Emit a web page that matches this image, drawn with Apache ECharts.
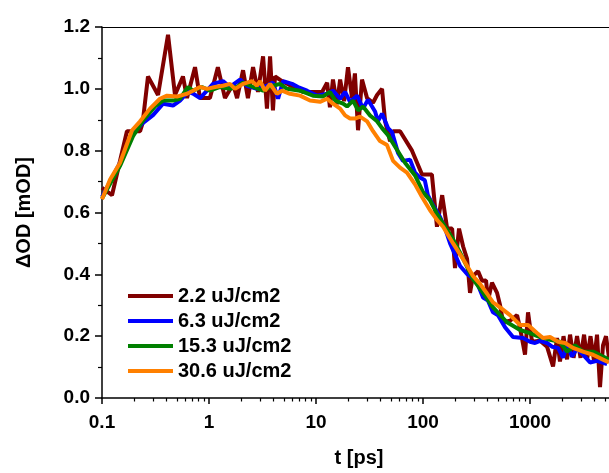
<!DOCTYPE html>
<html><head><meta charset="utf-8">
<script src="https://cdn.jsdelivr.net/npm/echarts@6/dist/echarts.min.js"></script>
<style>html,body{margin:0;padding:0;background:#fff}#c{width:609px;height:473px}</style>
</head><body><div id="c"></div>
<script>
const seriesNames = ['2.2 uJ/cm2', '6.3 uJ/cm2', '15.3 uJ/cm2', '30.6 uJ/cm2'];
const seriesColors = ['#800000', '#0000FF', '#008000', '#FF8000'];
const xMajorTicks = [0.1, 1, 10, 100, 1000];
const xMinorTicks = [0.2,0.3,0.4,0.5,0.6,0.7,0.8,0.9,2,3,4,5,6,7,8,9,20,30,40,50,60,70,80,90,200,300,400,500,600,700,800,900,2000,3000,4000,5000];
const xMin = 0.1, xMax = 5470;
const yMin = 0, yMax = 1.2, yStep = 0.2;

const s22 = [[0.1,0.68],[0.124,0.656],[0.171,0.863],[0.227,0.863],[0.24,0.89],[0.269,1.04],[0.334,0.98],[0.414,1.175],[0.481,0.98],[0.571,1.04],[0.623,0.97],[0.74,1.07],[0.824,0.97],[1.02,0.97],[1.21,1.07],[1.41,0.97],[1.68,1.015],[1.83,0.97],[2.08,1.06],[2.31,0.97],[2.58,1.07],[2.87,0.99],[3.2,1.105],[3.48,0.936],[3.72,1.105],[3.96,0.93],[4.14,1.04],[4.81,1.025],[6.1,1.006],[7.56,0.99],[9.37,0.99],[11.4,0.99],[12.7,1.02],[13.5,0.94],[14.4,1.03],[15.7,0.95],[16.8,1.03],[18.3,0.96],[19.9,1.07],[21.7,0.97],[23.1,1.05],[24.7,0.866],[26.9,1.03],[30,0.97],[34.1,0.955],[37.2,0.98],[41.4,1.0],[44.2,0.895],[49.2,0.83],[52.5,0.863],[61,0.863],[78.9,0.80],[97.9,0.723],[121,0.723],[135,0.554],[151,0.656],[168,0.548],[187,0.548],[199,0.42],[217,0.548],[237,0.49],[258,0.45],[275,0.34],[293,0.395],[327,0.41],[356,0.379],[388,0.38],[405,0.315],[441,0.373],[492,0.34],[525,0.30],[560,0.245],[650,0.25],[757,0.268],[807,0.226],[898,0.14],[958,0.277],[1044,0.182],[1240,0.185],[1442,0.166],[1641,0.102],[1788,0.194],[1905,0.118],[2056,0.20],[2218,0.125],[2366,0.205],[2552,0.13],[2750,0.20],[2965,0.13],[3199,0.205],[3412,0.125],[3674,0.20],[3963,0.12],[4227,0.205],[4508,0.035],[4808,0.17],[5129,0.20],[5470,0.13]];

const s63 = [[0.1,0.65],[0.147,0.76],[0.195,0.857],[0.242,0.89],[0.3,0.915],[0.372,0.952],[0.461,0.946],[0.536,0.962],[0.637,0.99],[0.708,0.985],[0.824,0.97],[0.958,0.994],[1.09,1.016],[1.35,1.025],[1.57,1.006],[1.95,1.03],[2.26,1.01],[2.81,1.0],[3.48,1.01],[3.96,1.02],[4.42,0.968],[4.92,1.025],[5.97,1.016],[6.79,1.006],[8.24,0.994],[10.2,0.978],[12.7,0.984],[14.4,0.994],[16.8,0.968],[18.7,0.99],[20.8,0.958],[24.2,0.978],[27.5,0.936],[30.6,0.965],[35.6,0.927],[37.9,0.895],[41.4,0.92],[47.1,0.873],[51.3,0.86],[58.4,0.793],[65,0.767],[75.6,0.771],[84.2,0.729],[93.7,0.713],[104,0.704],[111,0.656],[124,0.624],[144,0.586],[161,0.548],[179,0.50],[222,0.427],[258,0.401],[287,0.39],[320,0.373],[364,0.325],[405,0.315],[451,0.277],[502,0.268],[584,0.229],[693,0.197],[860,0.194],[1000,0.182],[1114,0.178],[1240,0.185],[1442,0.178],[1606,0.166],[1828,0.162],[2033,0.131],[2218,0.17],[2472,0.134],[2750,0.16],[3126,0.14],[3637,0.115],[4227,0.12],[5248,0.11]];

const s153 = [[0.1,0.645],[0.147,0.75],[0.195,0.847],[0.242,0.898],[0.313,0.943],[0.372,0.962],[0.461,0.962],[0.536,0.968],[0.637,1.006],[0.708,0.994],[0.86,1.006],[1.02,0.994],[1.27,1.006],[1.57,1.0],[1.83,1.006],[2.08,1.02],[2.58,1.006],[3.2,0.994],[3.96,1.01],[4.61,1.016],[5.36,1.0],[7.09,0.994],[9.37,0.978],[11.6,0.975],[13.5,0.99],[15.1,0.962],[17.9,0.952],[19.5,0.943],[22.2,0.962],[24.7,0.93],[27.5,0.943],[32,0.914],[37.2,0.895],[41.4,0.873],[47.1,0.85],[57.1,0.803],[67.9,0.761],[84.2,0.72],[100,0.666],[116,0.64],[135,0.596],[161,0.554],[191,0.513],[222,0.47],[293,0.385],[364,0.34],[451,0.293],[609,0.245],[807,0.22],[1000,0.21],[1240,0.197],[1538,0.188],[1905,0.182],[2218,0.15],[2635,0.17],[3126,0.15],[3880,0.15],[4808,0.134],[5470,0.125]];

const s306 = [[0.1,0.643],[0.119,0.707],[0.147,0.76],[0.191,0.866],[0.227,0.895],[0.281,0.936],[0.348,0.968],[0.405,0.978],[0.502,0.975],[0.623,0.984],[0.708,0.994],[0.824,1.006],[0.958,1.0],[1.14,1.006],[1.35,1.01],[1.57,1.016],[1.75,1.0],[2.08,1.016],[2.52,1.025],[2.81,1.01],[3.0,1.025],[3.33,0.994],[3.72,1.016],[4.32,0.984],[4.81,0.994],[5.71,0.984],[7.09,0.978],[8.79,0.962],[10.9,0.958],[12.7,0.968],[14.4,0.952],[16.8,0.936],[18.7,0.914],[20.8,0.904],[23.1,0.904],[25.8,0.91],[30,0.895],[34.1,0.863],[39.6,0.831],[46.1,0.818],[52.5,0.767],[61,0.745],[70.8,0.729],[84.2,0.691],[97.9,0.65],[116,0.608],[135,0.576],[154,0.554],[191,0.50],[237,0.449],[293,0.395],[341,0.369],[396,0.338],[451,0.309],[525,0.293],[650,0.268],[807,0.236],[958,0.236],[1162,0.21],[1322,0.194],[1538,0.197],[1828,0.182],[2124,0.178],[2523,0.162],[3126,0.15],[3880,0.14],[4808,0.124],[5470,0.115]];

const allData = [s22, s63, s153, s306];
const FONT = '"Liberation Sans", Arial, sans-serif';

const chart = echarts.init(document.getElementById('c'), null, {renderer: 'canvas'});
chart.setOption({
  animation: false,
  backgroundColor: '#fff',
  grid: {left: 102, right: 0, top: 27, bottom: 69, containLabel: false},
  legend: {
    orient: 'vertical', left: 123, top: 281, itemWidth: 45, itemHeight: 4, itemGap: 5,
    textStyle: {fontFamily: FONT, fontWeight: 'bold', fontSize: 20, color: '#000'},
    data: seriesNames.map(n => ({name: n, icon: 'rect'})),
  },
  xAxis: [
    {
      type: 'log', logBase: 10, min: xMin, max: xMax, position: 'bottom',
      name: 't [ps]', nameLocation: 'middle', nameGap: 50,
      nameTextStyle: {fontFamily: FONT, fontWeight: 'bold', fontSize: 20, color: '#000', padding: [0,0,0,7]},
      axisLine: {show: true, lineStyle: {color: '#000', width: 1.5}},
      axisTick: {show: true, length: 6, lineStyle: {color: '#000', width: 1.5}, customValues: xMajorTicks},
      axisLabel: {show: true, margin: 15, fontFamily: FONT, fontWeight: 'bold', fontSize: 19, color: '#000',
        customValues: xMajorTicks, formatter: v => String(Math.round(v * 10) / 10)},
      splitLine: {show: false}, minorTick: {show: false}
    },
    {
      type: 'log', logBase: 10, min: xMin, max: xMax, position: 'bottom',
      axisLine: {show: false},
      axisTick: {show: true, length: 3.5, lineStyle: {color: '#000', width: 1.2}, customValues: xMinorTicks},
      axisLabel: {show: false}, splitLine: {show: false}
    },
    {
      type: 'log', logBase: 10, min: xMin, max: xMax, position: 'top',
      axisLine: {show: true, lineStyle: {color: '#000', width: 1.2}},
      axisTick: {show: false}, axisLabel: {show: false}, splitLine: {show: false}
    }
  ],
  yAxis: {
    type: 'value', min: yMin, max: yMax, interval: yStep,
    name: 'ΔOD [mOD]', nameLocation: 'middle', nameGap: 68,
    nameTextStyle: {fontFamily: FONT, fontWeight: 'bold', fontSize: 20, color: '#000'},
    axisLine: {show: true, lineStyle: {color: '#000', width: 1.5}},
    axisTick: {show: true, length: 7, lineStyle: {color: '#000', width: 1.5}},
    minorTick: {show: true, splitNumber: 2, length: 4, lineStyle: {color: '#000', width: 1.2}},
    axisLabel: {margin: 12, fontFamily: FONT, fontWeight: 'bold', fontSize: 19, color: '#000',
      formatter: v => v.toFixed(1)},
    splitLine: {show: false}
  },
  series: allData.map((d, i) => ({
    name: seriesNames[i], type: 'line', xAxisIndex: 0, data: d,
    symbol: 'none', showSymbol: false, color: seriesColors[i],
    lineStyle: {width: 4, color: seriesColors[i]}, itemStyle: {color: seriesColors[i]},
    z: 2 + i
  }))
});
</script></body></html>
